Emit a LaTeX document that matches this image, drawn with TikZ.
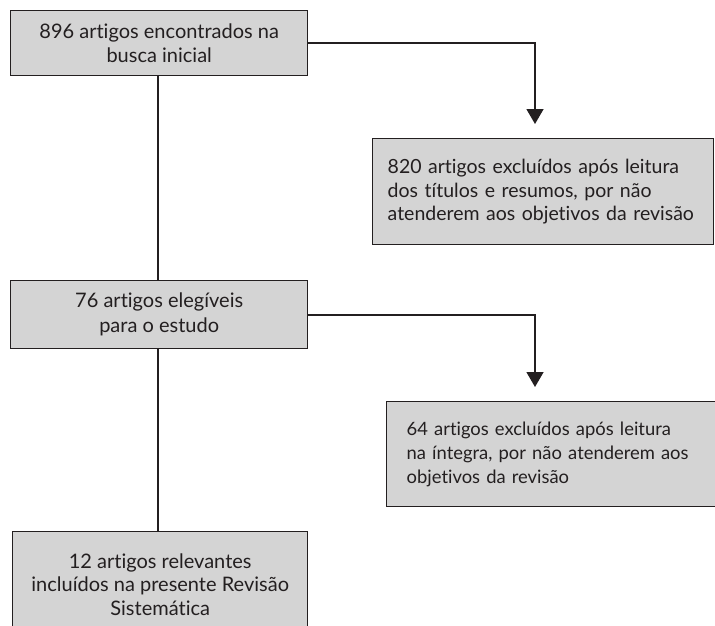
\documentclass[tikz,border=0pt]{standalone}
\usepackage{fontspec}
\setmainfont{Lato}[Ligatures=NoCommon]
\usetikzlibrary{arrows.meta}
\definecolor{boxfill}{HTML}{D4D4D4}
\definecolor{ink}{HTML}{231F20}
\tikzset{
  box/.style={draw=ink, line width=1.4pt, fill=boxfill, rectangle, anchor=north west,
    font=\fontsize{20}{23.5}\selectfont, text=ink, inner sep=0pt},
  cbox/.style={box, align=center},
  lbox/.style={box, align=left},
  conn/.style={draw=ink, line width=1.4pt},
  arr/.style={conn, -{Triangle[width=17pt,length=15pt]}}
}
\begin{document}
\begin{tikzpicture}[x=1pt,y=-1pt]
\clip (0,0) rectangle (715,625);
\fill[white] (0,0) rectangle (715,625);
\node[cbox, minimum width=297pt, minimum height=65pt] (b1) at (10,10)
  {896 artigos encontrados na\\busca inicial};
\node[cbox, minimum width=297pt, minimum height=68pt, font=\fontsize{20}{25}\selectfont] (b2) at (10,280)
  {76 artigos elegíveis\\para o estudo};
\node[lbox, minimum width=341pt, minimum height=106pt, text width=311pt, inner xsep=15pt,
  font=\fontsize{19.5}{23.5}\selectfont] (b3) at (372,138)
  {820 artigos excluídos após leitura\\dos títulos e resumos, por não\\atenderem aos objetivos da revisão};
\node[lbox, minimum height=105pt, text width=314pt, inner xsep=20pt,
  font=\fontsize{18.4}{24}\selectfont] (b4) at (386,401)
  {64 artigos excluídos após leitura\\na íntegra, por não atenderem aos\\objetivos da revisão};
\node[cbox, minimum width=295pt, minimum height=106pt] (b5) at (12,531)
  {12 artigos relevantes\\incluídos na presente Revisão\\Sistemática};
\coordinate (c1) at (535,43);
\coordinate (c2) at (535,315);
\draw[conn] (b1.south -| 158,0) -- (b2.north -| 158,0);
\draw[conn] (b2.south -| 158,0) -- (b5.north -| 158,0);
\draw[arr] (b1.east |- c1) -- (c1) -- ([yshift=14pt]b3.north -| c1);
\draw[arr] (b2.east |- c2) -- (c2) -- ([yshift=14pt]b4.north -| c2);
\end{tikzpicture}
\end{document}
